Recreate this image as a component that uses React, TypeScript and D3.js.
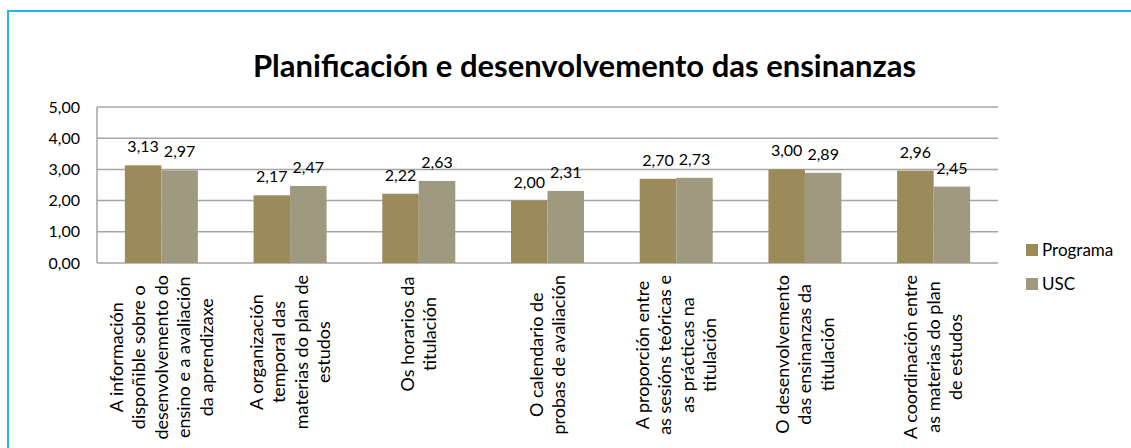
import React, { useEffect, useRef } from "react";
import * as d3 from "d3";

const title = "Planificación e desenvolvemento das ensinanzas";
const categoryLines: string[][] = [
  ["A información", "dispoñible sobre o", "desenvolvemento do", "ensino e a avaliación", "da aprendizaxe"],
  ["A organización", "temporal das", "materias do plan de", "estudos"],
  ["Os horarios da", "titulación"],
  ["O calendario de", "probas de avaliación"],
  ["A proporción entre", "as sesións teóricas e", "as prácticas na", "titulación"],
  ["O desenvolvemento", "das ensinanzas da", "titulación"],
  ["A coordinación entre", "as materias do plan", "de estudos"],
];
const categories = categoryLines.map((l) => l.join(" "));
const seriesNames = ["Programa", "USC"];
const programa = [3.13, 2.17, 2.22, 2.0, 2.7, 3.0, 2.96];
const usc = [2.97, 2.47, 2.63, 2.31, 2.73, 2.89, 2.45];
const yTicks = [0, 1, 2, 3, 4, 5];
const colors = ["#9B8B5B", "#9F9980"];

const W = 1131;
const H = 448;
const FONT = "Lato, 'Open Sans', sans-serif";

export default function App() {
  const ref = useRef<SVGSVGElement>(null);

  useEffect(() => {
    const svg = d3.select(ref.current);
    svg.selectAll("*").remove();

    const left = 97, right = 998, top = 107, bottom = 263;
    const x = d3.scaleBand<string>().domain(categories).range([left, right]).padding(0);
    const inner = d3
      .scaleBand<string>()
      .domain(seriesNames)
      .range([0, x.bandwidth()])
      .paddingInner(0)
      .paddingOuter(0.763);
    const y = d3.scaleLinear().domain([0, 5]).range([bottom, top]);
    const fmt = (v: number) => v.toFixed(2).replace(".", ",");

    // frame
    svg
      .append("rect")
      .attr("x", 8)
      .attr("y", 11)
      .attr("width", W + 20)
      .attr("height", H + 20)
      .attr("fill", "white")
      .attr("stroke", "#22B4EE")
      .attr("stroke-width", 2);

    // title
    svg
      .append("text")
      .attr("x", (254 + 915) / 2)
      .attr("y", 77)
      .attr("text-anchor", "middle")
      .attr("font-family", FONT)
      .attr("font-weight", "bold")
      .attr("font-size", 31)
      .attr("fill", "#000")
      .text(title);

    // gridlines
    svg
      .append("g")
      .selectAll("line")
      .data(yTicks)
      .join("line")
      .attr("x1", left)
      .attr("x2", right)
      .attr("y1", (d) => y(d))
      .attr("y2", (d) => y(d))
      .attr("stroke", "#A5A5A5")
      .attr("stroke-width", 1.5);

    // y axis line
    svg
      .append("line")
      .attr("x1", left)
      .attr("x2", left)
      .attr("y1", top)
      .attr("y2", bottom)
      .attr("stroke", "#A5A5A5")
      .attr("stroke-width", 1.5);

    // y tick labels
    svg
      .append("g")
      .selectAll("text")
      .data(yTicks)
      .join("text")
      .attr("x", 80)
      .attr("y", (d) => y(d))
      .attr("dy", "0.35em")
      .attr("text-anchor", "end")
      .attr("font-family", FONT)
      .attr("font-size", 16)
      .attr("fill", "#000")
      .text((d) => fmt(d));

    const series = [programa, usc];
    series.forEach((vals, si) => {
      const g = svg.append("g");
      g.selectAll("rect")
        .data(vals)
        .join("rect")
        .attr("x", (_, i) => (x(categories[i]) as number) + (inner(seriesNames[si]) as number))
        .attr("width", inner.bandwidth())
        .attr("y", (d) => y(d))
        .attr("height", (d) => y(0) - y(d))
        .attr("fill", colors[si]);
      g.selectAll("text")
        .data(vals)
        .join("text")
        .attr(
          "x",
          (_, i) => (x(categories[i]) as number) + (inner(seriesNames[si]) as number) + inner.bandwidth() / 2
        )
        .attr("y", (d) => y(d) - 13)
        .attr("text-anchor", "middle")
        .attr("font-family", FONT)
        .attr("font-size", 16)
        .attr("fill", "#000")
        .text((d) => fmt(d));
    });

    // category labels
    const lineH = 22.5;
    const labelTop = 275;
    categoryLines.forEach((lines, ci) => {
      const cx = (x(categories[ci]) as number) + x.bandwidth() / 2;
      const g = svg.append("g");
      const texts = g
        .selectAll("text")
        .data(lines)
        .join("text")
        .attr("text-anchor", "middle")
        .attr("font-family", FONT)
        .attr("font-size", 18)
        .attr("fill", "#000")
        .text((d) => d);
      let maxLen = 0;
      texts.each(function () {
        maxLen = Math.max(maxLen, (this as SVGTextElement).getComputedTextLength());
      });
      maxLen = Math.max(maxLen, 118);
      const cy = labelTop + maxLen / 2;
      const n = lines.length;
      texts.attr("transform", (_, i) => {
        const lx = cx + (i - (n - 1) / 2) * lineH;
        return `translate(${lx},${cy}) rotate(-90)`;
      }).attr("dy", "0.35em");
    });

    // legend
    const legend = svg.append("g");
    seriesNames.forEach((name, i) => {
      const ly = 250 + i * 34;
      legend
        .append("rect")
        .attr("x", 1026)
        .attr("y", ly - 6)
        .attr("width", 12)
        .attr("height", 12)
        .attr("fill", colors[i]);
      legend
        .append("text")
        .attr("x", 1042)
        .attr("y", ly)
        .attr("dy", "0.35em")
        .attr("font-family", FONT)
        .attr("font-size", 17)
        .attr("fill", "#000")
        .text(name);
    });
  }, []);

  return (
    <svg
      ref={ref}
      width={W}
      height={H}
      style={{ position: "absolute", left: 0, top: 0, background: "white" }}
    />
  );
}
